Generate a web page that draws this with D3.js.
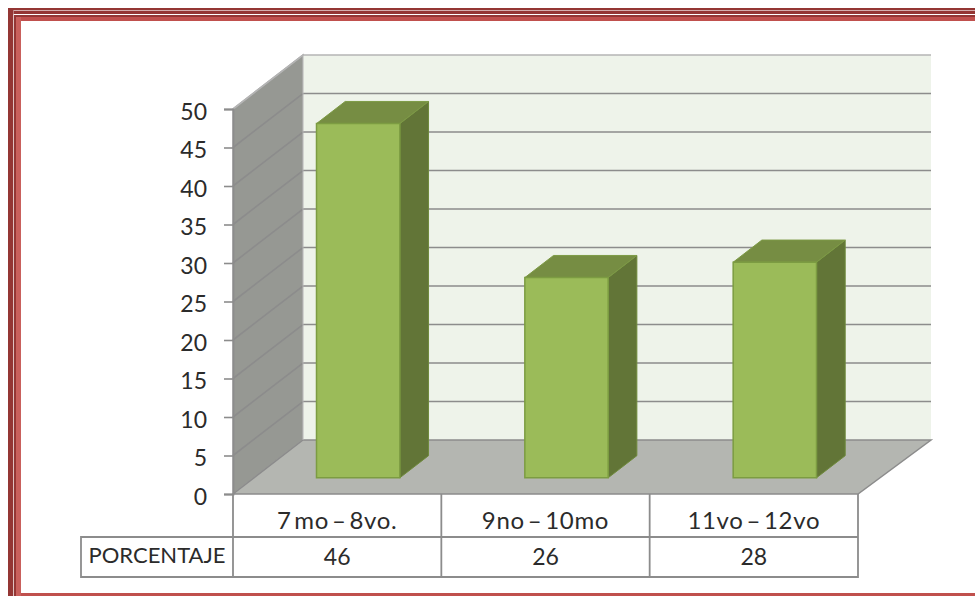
<!DOCTYPE html>
<html>
<head>
<meta charset="utf-8">
<script src="https://cdn.jsdelivr.net/npm/d3@7"></script>
<style>
    html, body {margin:0; padding:0; background:#fff; overflow:hidden;}
    svg {display:block;}
    text {font-family:Lato, "Open Sans", sans-serif; fill:#2b2b2b;}
</style>
</head>
<body>
<script>
(function(){

    //chart data
    var categories = ["7 mo \u2013 8vo.", "9no \u2013 10mo", "11vo \u2013 12vo"];
    var values = [46, 26, 28];
    var yTicks = [0, 5, 10, 15, 20, 25, 30, 35, 40, 45, 50];
    var rowLabel = "PORCENTAJE";

    var width = 975, height = 596;

    var svg = d3.select("body")
        .append("svg")
        .attr("width", width)
        .attr("height", height);

    //page border
    drawBorder();

    //front plane scales
    var x = d3.scaleBand()
        .domain(categories)
        .range([233, 858]);
    var y = d3.scaleLinear()
        .domain([0, 50])
        .range([494, 109]);

    //depth of the box, 1 = back wall
    var depthX = 70, depthY = -54;

    //project a point into the oblique 3d view
    function pt(px, py, depth){
        return [px + depth * depthX, py + depth * depthY];
    }
    function poly(points){
        return "M" + points.map(function(p){ return p.join(","); }).join("L") + "Z";
    }

    var x0 = x.range()[0], x1 = x.range()[1];
    var backRight = x1 + 3; //back wall runs slightly further than the table
    var lineGrey = "#8c8c8c";

    //side wall
    svg.append("path")
        .attr("d", poly([pt(x0, y(0), 0), pt(x0, y(50), 0), pt(x0, y(50), 1), pt(x0, y(0), 1)]))
        .attr("fill", "#969893")
        .attr("stroke", "#a3a3a3")
        .attr("stroke-width", 1.5);

    //back wall
    svg.append("path")
        .attr("d", poly([pt(x0, y(0), 1), pt(x0, y(50), 1), pt(backRight, y(50), 1), pt(backRight, y(0), 1)]))
        .attr("fill", "#eef3ea");

    //floor
    svg.append("path")
        .attr("d", poly([pt(x0, y(0), 0), pt(x0, y(0), 1), pt(backRight, y(0), 1), pt(x1, y(0), 0)]))
        .attr("fill", "#b4b6b1")
        .attr("stroke", lineGrey)
        .attr("stroke-width", 1.5);

    //gridlines on both walls
    svg.selectAll(".grid")
        .data(yTicks.slice(1))
        .enter()
        .append("path")
        .attr("class", "grid")
        .attr("d", function(d){
            var a = pt(x0, y(d), 0), b = pt(x0, y(d), 1), c = pt(backRight, y(d), 1);
            return "M" + a + "L" + b + "L" + c;
        })
        .attr("fill", "none")
        .attr("stroke", function(d){ return d === 50 ? "#b5b5b5" : lineGrey; })
        .attr("stroke-width", 1.6);

    //wall edge
    svg.append("line")
        .attr("x1", pt(x0, y(0), 1)[0]).attr("y1", pt(x0, y(0), 1)[1])
        .attr("x2", pt(x0, y(50), 1)[0]).attr("y2", pt(x0, y(50), 1)[1])
        .attr("stroke", "#b5b5b5");

    //y axis line and ticks
    var yAxis = d3.axisLeft(y)
        .tickValues(yTicks)
        .tickSize(9)
        .tickPadding(17);
    var axisG = svg.append("g")
        .attr("transform", "translate(" + x0 + ",0)")
        .call(yAxis);
    axisG.select(".domain").attr("stroke", lineGrey).attr("stroke-width", 1.8);
    axisG.selectAll(".tick line").attr("stroke", lineGrey).attr("stroke-width", 1.6);
    axisG.selectAll(".tick text")
        .attr("dy", "0.44em")
        .style("font-size", "23px")
        .style("font-family", "Lato, sans-serif")
        .style("fill", "#2b2b2b");

    //bars
    var barW = x.bandwidth() * 0.4,
        barNear = 0.3,
        barFar = 0.71;

    var bars = svg.selectAll(".bar")
        .data(values)
        .enter()
        .append("g")
        .attr("class", "bar");

    bars.each(function(d, i){
        var g = d3.select(this);
        var left = x(categories[i]) + (x.bandwidth() - barW) / 2,
            right = left + barW,
            top = y(d),
            base = y(0);

        //side face
        g.append("path")
            .attr("d", poly([pt(right, base, barNear), pt(right, top, barNear), pt(right, top, barFar), pt(right, base, barFar)]))
            .attr("fill", "#627537")
            .attr("stroke", "#6f8a3c");
        //top face
        g.append("path")
            .attr("d", poly([pt(left, top, barNear), pt(left, top, barFar), pt(right, top, barFar), pt(right, top, barNear)]))
            .attr("fill", "#768d43")
            .attr("stroke", "#7d9a45");
        //front face
        g.append("path")
            .attr("d", poly([pt(left, base, barNear), pt(left, top, barNear), pt(right, top, barNear), pt(right, base, barNear)]))
            .attr("fill", "#9bbb59")
            .attr("stroke", "#7c9c42")
            .attr("stroke-width", 1.5);
    });

    //data table below the plot
    var rowMid = 537, rowBottom = 577, labelLeft = 81;
    var table = svg.append("g")
        .attr("fill", "none")
        .attr("stroke", lineGrey)
        .attr("stroke-width", 1.8);

    table.append("path")
        .attr("d", "M" + x0 + "," + y(0) + "V" + rowBottom + "H" + labelLeft + "V" + rowMid + "H" + x1);
    table.append("path")
        .attr("d", "M" + x0 + "," + rowBottom + "H" + x1 + "V" + y(0));
    categories.slice(1).forEach(function(c){
        table.append("line")
            .attr("x1", x(c)).attr("x2", x(c))
            .attr("y1", y(0)).attr("y2", rowBottom);
    });

    svg.selectAll(".catLabel")
        .data(categories)
        .enter()
        .append("text")
        .attr("class", "catLabel")
        .attr("x", function(d){ return x(d) + x.bandwidth() / 2; })
        .attr("y", 529)
        .attr("text-anchor", "middle")
        .style("font-size", "24px")
        .style("letter-spacing", "0.7px")
        .style("word-spacing", "-4px")
        .text(function(d){ return d; });

    svg.selectAll(".valLabel")
        .data(values)
        .enter()
        .append("text")
        .attr("class", "valLabel")
        .attr("x", function(d, i){ return x(categories[i]) + x.bandwidth() / 2; })
        .attr("y", 565)
        .attr("text-anchor", "middle")
        .style("font-size", "23px")
        .text(function(d){ return d; });

    svg.append("text")
        .attr("x", 157)
        .attr("y", 563)
        .attr("text-anchor", "middle")
        .style("font-size", "22px")
        .text(rowLabel);

    //red frame, open on the right, bands
    function drawBorder(){
        var frame = svg.append("g");
        band(frame, 8, 8, width - 8, 2.4, "#943634");   //top thin
        band(frame, 13.5, 11, width - 13.5, 3, "#943634");  //top second
        band(frame, 14, 15, width - 14, 2, "#943634");  //top third
        band(frame, 16, 17, width - 16, 4, "#c0504d");  //top red
        band(frame, 8, 8, 5.3, height - 8, "#943634");  //left wide
        band(frame, 14, 15, 2, height - 15, "#943634"); //left second
        band(frame, 16, 17, 5, height - 17, "#c9605c"); //left red
        band(frame, 21, 593, width - 21, 3, "#c0504d"); //bottom red
    }

    function band(g, bx, by, bw, bh, color){
        g.append("rect")
            .attr("x", bx)
            .attr("y", by)
            .attr("width", bw)
            .attr("height", bh)
            .attr("fill", color);
    }

})();
</script>
</body>
</html>
